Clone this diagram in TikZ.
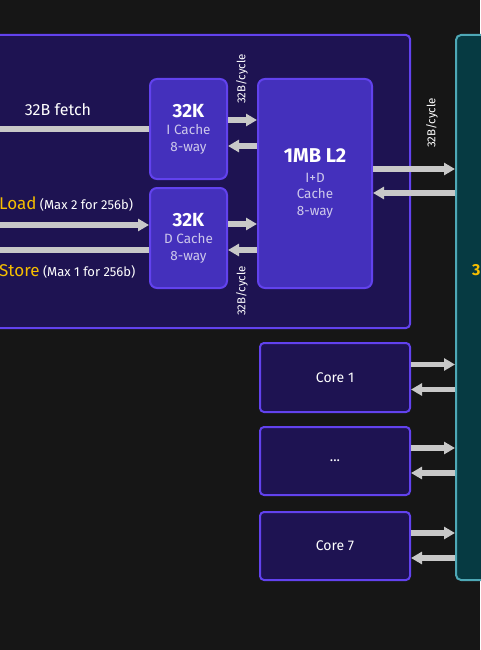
\documentclass[tikz,border=0pt]{standalone}
\usepackage{fontspec}
\setmainfont{Fira Sans}
\usetikzlibrary{arrows.meta}
\definecolor{cBG}{RGB}{22,22,22}
\definecolor{cCOREFILL}{RGB}{30,19,82}
\definecolor{cEDGE}{RGB}{98,66,238}
\definecolor{cCACHE}{RGB}{68,48,188}
\definecolor{cLTHREE}{RGB}{6,58,66}
\definecolor{cLTHREEEDGE}{RGB}{78,168,182}
\definecolor{cBUS}{RGB}{200,200,200}
\definecolor{cLDST}{RGB}{246,190,0}
\definecolor{cSUB}{RGB}{205,200,235}
\begin{document}
\begin{tikzpicture}[x=1pt,y=-1pt,
  corebox/.style={draw=cEDGE,fill=cCOREFILL,line width=2pt,rounded corners=4pt,inner sep=0pt,text=white,font=\fontsize{14}{16}\selectfont},
  cachebox/.style={draw=cEDGE,fill=cCACHE,line width=2pt,rounded corners=7pt,inner sep=0pt,align=center,text=cSUB,font=\fontsize{13.5}{16.5}\selectfont},
  l3box/.style={draw=cLTHREEEDGE,fill=cLTHREE,line width=2pt,rounded corners=5pt,inner sep=0pt},
  bus/.style={cBUS,line width=5.5pt},
  busarrow/.style={bus,-{Triangle[length=11pt,width=12pt]}},
  rate/.style={white,rotate=90,font=\fontsize{11.5}{13}\selectfont},
  portlbl/.style={anchor=west,text=white,inner sep=0pt,font=\fontsize{13}{15}\selectfont}]
\useasboundingbox (0,0) rectangle (480,650);
\fill[cBG] (0,0) rectangle (480,650);
\node[corebox,minimum width=420pt,minimum height=293pt] (core0) at (200,181.5) {};
\node[l3box,minimum width=44pt,minimum height=545pt] (l3) at (478,307.5) {};
\node[cachebox,minimum width=77pt,minimum height=100pt] (icache) at (188.5,129)
  {{\color{white}\fontsize{19}{22}\selectfont\bfseries 32K}\\[1pt]I Cache\\8-way};
\node[cachebox,minimum width=77pt,minimum height=100pt] (dcache) at (188.5,238)
  {{\color{white}\fontsize{19}{22}\selectfont\bfseries 32K}\\[1pt]D Cache\\8-way};
\node[cachebox,minimum width=114pt,minimum height=209pt] (l2) at (315,183.5)
  {{\color{white}\fontsize{20}{22}\selectfont\bfseries 1MB L2}\\[3pt]I+D\\Cache\\8-way};
\node[corebox,minimum width=150pt,minimum height=69pt] (core1) at (335,377.5) {Core 1};
\node[corebox,minimum width=150pt,minimum height=68pt] (coren) at (335,461) {...};
\node[corebox,minimum width=150pt,minimum height=68pt] (core7) at (335,546) {Core 7};
\coordinate (fetchin) at (-5,129);
\coordinate (loadin) at (-5,225);
\coordinate (storeout) at (-5,250);
\draw[bus] (fetchin) -- (icache.west);
\draw[busarrow] (loadin) -- (loadin -| dcache.west);
\draw[bus] (storeout -| dcache.west) -- (storeout);
\draw[busarrow] ([yshift=9pt]icache.east) -- ([yshift=9pt]icache.east -| l2.west);
\draw[busarrow] ([yshift=-17pt]icache.east -| l2.west) -- ([yshift=-17pt]icache.east);
\draw[busarrow] ([yshift=14pt]dcache.east) -- ([yshift=14pt]dcache.east -| l2.west);
\draw[busarrow] ([yshift=-12pt]dcache.east -| l2.west) -- ([yshift=-12pt]dcache.east);
\draw[busarrow] ([yshift=14.5pt]l2.east) -- ([yshift=14.5pt]l2.east -| l3.west);
\draw[busarrow] ([yshift=-9.5pt]l2.east -| l3.west) -- ([yshift=-9.5pt]l2.east);
\foreach \c in {core1,coren,core7} {
  \draw[busarrow] ([yshift=13pt]\c.east) -- ([yshift=13pt]\c.east -| l3.west);
  \draw[busarrow] ([yshift=-12pt]\c.east -| l3.west) -- ([yshift=-12pt]\c.east);
}
\node[text=white,font=\fontsize{16}{18}\selectfont] (fetchlbl) at (58,110) {32B fetch};
\node[portlbl] (loadlbl) at (-1,204) {{\color{cLDST}\fontsize{17}{19}\selectfont Load} (Max 2 for 256b)};
\node[portlbl] (storelbl) at (-1,271) {{\color{cLDST}\fontsize{17}{19}\selectfont Store} (Max 1 for 256b)};
\node[rate] (ratetop) at (242,79) {32B/cycle};
\node[rate] (ratebot) at (242,291) {32B/cycle};
\node[rate] (ratel3) at (432,123) {32B/cycle};
\node[anchor=west,inner sep=0pt,text=cLDST,font=\fontsize{16}{17}\selectfont\bfseries] (l3lbl) at (472,270) {3};
\end{tikzpicture}
\end{document}
